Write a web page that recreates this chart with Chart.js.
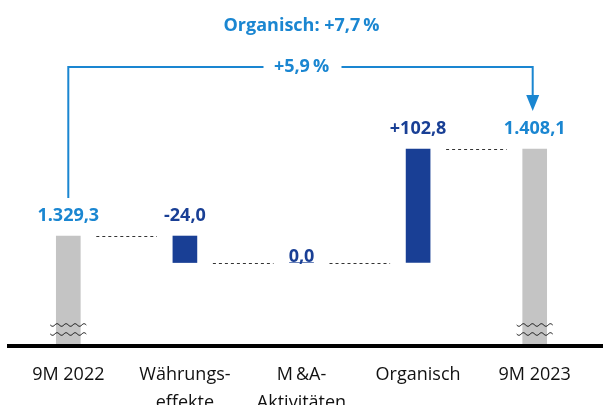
<!DOCTYPE html>
<html lang="de">
<head>
    <meta charset="UTF-8">
    <title>Umsatzbrücke 9M 2022 - 9M 2023</title>
    <script src="https://cdn.jsdelivr.net/npm/chart.js"></script>
    <style>
        html, body { margin: 0; padding: 0; background: #fff; }
        #wrap { width: 603px; height: 405px; position: relative; }
    </style>
</head>
<body>
    <div id="wrap"><canvas id="bridgeChart"></canvas></div>
    <script>
        // Daten
        const categories = ['9M 2022', ['Währungs-', 'effekte'], ['M\u2009&A-', 'Aktivitäten'], 'Organisch', '9M 2023'];
        const values = [1329.3, -24.0, 0.0, 102.8, 1408.1];
        const isTotal = [true, false, false, false, true];
        const growthTotal = '+5,9\u2009%';
        const growthOrganic = 'Organisch: +7,7\u2009%';

        const LIGHT = '#1a86d1';
        const DARK = '#193f95';
        const GREY = '#c4c4c4';
        const FONT = '"Open Sans", "Noto Sans", sans-serif';

        // Wasserfall: Start/Ende je Balken
        let running = 0;
        const ranges = values.map((v, i) => {
            if (isTotal[i]) { running = v; return [0, v]; }
            const start = running;
            running = running + v;
            return [start, running];
        });
        const levels = ranges.map(r => r[1]);

        function fmt(v, sign) {
            const abs = Math.abs(v).toFixed(1).split('.');
            const int = abs[0].replace(/\B(?=(\d{3})+(?!\d))/g, '.');
            let s = int + ',' + abs[1];
            if (sign) s = (v < 0 ? '-' : '+') + s;
            return s;
        }

        const overlay = {
            id: 'overlay',
            afterDatasetsDraw(chart) {
                const ctx = chart.ctx;
                const x = chart.scales.x, y = chart.scales.y;
                const bottom = chart.chartArea.bottom;
                ctx.save();

                // Verbindungslinien
                ctx.strokeStyle = '#333';
                ctx.lineWidth = 1;
                ctx.setLineDash([3, 3]);
                for (let i = 0; i < values.length - 1; i++) {
                    const yy = Math.round(y.getPixelForValue(levels[i])) + 0.5;
                    ctx.beginPath();
                    ctx.moveTo(x.getPixelForValue(i) + 28, yy);
                    ctx.lineTo(x.getPixelForValue(i + 1) - 28, yy);
                    ctx.stroke();
                }
                ctx.setLineDash([]);

                // Achsenbruch
                ctx.strokeStyle = '#111';
                ctx.lineWidth = 1;
                values.forEach((v, i) => {
                    if (!isTotal[i]) return;
                    const cx = x.getPixelForValue(i);
                    [bottom - 21, bottom - 12].forEach(wy => {
                        ctx.beginPath();
                        for (let dx = -18; dx <= 18; dx++) {
                            const py = wy + 1.3 * Math.sin(dx / 9 * 2 * Math.PI);
                            if (dx === -18) ctx.moveTo(cx + dx, py); else ctx.lineTo(cx + dx, py);
                        }
                        ctx.stroke();
                    });
                });

                // Grundlinie
                ctx.fillStyle = '#000';
                ctx.fillRect(7, bottom - 2, chart.width - 7, 4);

                // Werte
                ctx.font = 'bold 18px ' + FONT;
                ctx.textAlign = 'center';
                ctx.textBaseline = 'alphabetic';
                values.forEach((v, i) => {
                    const cx = x.getPixelForValue(i);
                    const top = y.getPixelForValue(Math.max(ranges[i][0], ranges[i][1]));
                    ctx.fillStyle = isTotal[i] ? LIGHT : DARK;
                    const label = isTotal[i] ? fmt(v, false) : (v === 0 ? fmt(v, false) : fmt(v, true));
                    const by = v === 0 ? top - 1 : top - 15;
                    ctx.fillText(label, cx, by);
                });

                // Klammer mit Pfeil
                const x0 = x.getPixelForValue(0);
                const x1 = x.getPixelForValue(values.length - 1) - 2;
                const lineY = 67;
                const midX = (x0 + x1) / 2 + 1;
                ctx.strokeStyle = LIGHT;
                ctx.lineWidth = 2;
                ctx.beginPath();
                ctx.moveTo(x0, y.getPixelForValue(levels[0]) - 38);
                ctx.lineTo(x0, lineY);
                ctx.lineTo(midX - 38, lineY);
                ctx.moveTo(midX + 40, lineY);
                ctx.lineTo(x1, lineY);
                ctx.lineTo(x1, 96);
                ctx.stroke();
                ctx.fillStyle = LIGHT;
                ctx.beginPath();
                ctx.moveTo(x1 - 6.5, 95);
                ctx.lineTo(x1 + 6.5, 95);
                ctx.lineTo(x1, 111);
                ctx.closePath();
                ctx.fill();

                ctx.fillText(growthTotal, midX, 72);
                ctx.fillText(growthOrganic, midX, 31);

                ctx.restore();
            }
        };

        new Chart(document.getElementById('bridgeChart'), {
            type: 'bar',
            data: {
                labels: categories,
                datasets: [{
                    data: ranges,
                    backgroundColor: values.map((v, i) => isTotal[i] ? GREY : DARK),
                    borderWidth: 0,
                    borderSkipped: false,
                    barThickness: 24
                }]
            },
            options: {
                responsive: true,
                maintainAspectRatio: false,
                animation: false,
                layout: { padding: { left: 10, right: 10, top: 0, bottom: 0 } },
                plugins: { legend: { display: false }, tooltip: { enabled: false } },
                scales: {
                    x: {
                        grid: { display: false, drawTicks: false },
                        border: { display: false },
                        ticks: {
                            color: '#111',
                            font: { family: FONT, size: 18, lineHeight: 1.55 },
                            padding: 15,
                            maxRotation: 0,
                            autoSkip: false
                        },
                        afterFit: s => { s.height = 59; }
                    },
                    y: {
                        display: false,
                        min: 1229.7,
                        max: 1543.1
                    }
                }
            },
            plugins: [overlay]
        });
    </script>
</body>
</html>
